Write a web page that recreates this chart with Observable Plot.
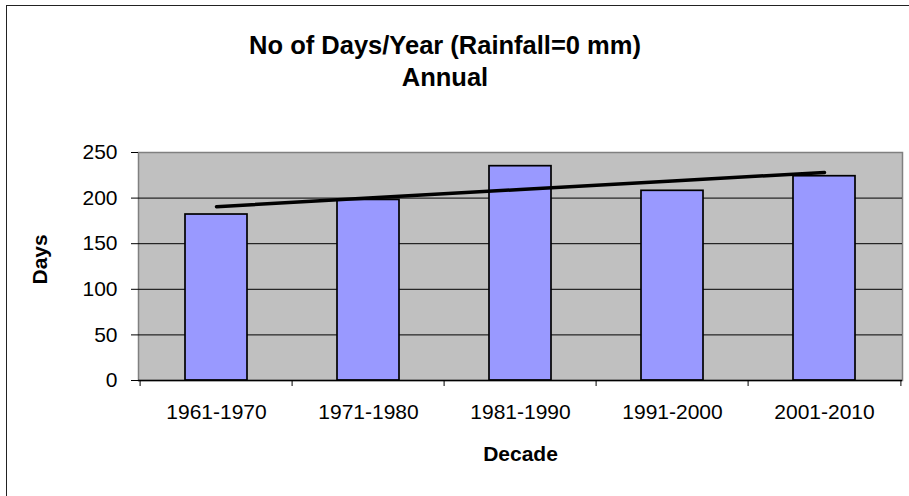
<!DOCTYPE html>
<html>
<head>
<meta charset="utf-8">
<script src="https://cdn.jsdelivr.net/npm/d3@7"></script>
<script src="https://cdn.jsdelivr.net/npm/@observablehq/plot@0.6"></script>
<style>
  html, body { margin: 0; padding: 0; background: #fff; }
  #wrap { position: relative; width: 909px; height: 496px; overflow: hidden; font-family: "Liberation Sans", Arial, sans-serif; }
  #border { position: absolute; left: 6px; top: 5px; width: 960px; height: 560px; border: 1.5px solid #222; box-sizing: border-box; }
  #title { position: absolute; left: 0; top: 29px; width: 890px; text-align: center; font-weight: bold; font-size: 25.5px; line-height: 32px; color: #000; }
  #chart { position: absolute; left: 0; top: 0; }
</style>
</head>
<body>
<div id="wrap">
  <div id="border"></div>
  <div id="chart"></div>
  <div id="title">No of Days/Year (Rainfall=0 mm)<br>Annual</div>
</div>
<script>
const decades = ["1961-1970", "1971-1980", "1981-1990", "1991-2000", "2001-2010"];
const days = [182, 198, 235, 208, 224];
const yTicks = [0, 50, 100, 150, 200, 250];

const data = decades.map((d, i) => ({decade: d, days: days[i]}));

// Linear trend (least squares) over the decade index
const n = days.length;
const xm = (n - 1) / 2;
const ym = d3.mean(days);
const slope = d3.sum(days, (v, i) => (i - xm) * (v - ym)) / d3.sum(days, (v, i) => (i - xm) ** 2);
const trend = decades.map((d, i) => ({decade: d, days: ym + slope * (i - xm)}));

const W = 909, H = 496, ML = 138, MR = 7, MT = 152, MB = 116;
const step = (W - ML - MR) / decades.length;

const chart = Plot.plot({
  width: W,
  height: H,
  marginLeft: ML,
  marginRight: MR,
  marginTop: MT,
  marginBottom: MB,
  style: {fontFamily: "'Liberation Sans', Arial, sans-serif", fontSize: "21px", color: "#000", background: "transparent"},
  x: {domain: decades, paddingInner: 0.594, paddingOuter: 0.297, align: 0.5},
  y: {domain: [0, 250]},
  marks: [
    Plot.frame({fill: "#c0c0c0", stroke: "#808080", strokeWidth: 1.5}),
    Plot.ruleY(yTicks.filter(t => t > 0 && t < 250), {stroke: "#000", strokeWidth: 1}),
    Plot.barY(data, {x: "decade", y: "days", fill: "#9999ff", stroke: "#000", strokeWidth: 1.7}),
    Plot.line(trend, {x: "decade", y: "days", stroke: "#000", strokeWidth: 3.5}),
    Plot.ruleY([0], {stroke: "#000", strokeWidth: 1.5}),
    Plot.axisY({ticks: yTicks, tickSize: 7, tickPadding: 14, label: null, line: true, fontSize: 21}),
    Plot.axisX({tickSize: 0, tickPadding: 24, label: null, fontSize: 21}),
    Plot.axisX({tickSize: 6, text: null, label: null, dx: -step / 2}),
    Plot.axisX({ticks: [decades[decades.length - 1]], tickSize: 6, text: null, label: null, dx: step / 2}),
    Plot.text(["Days"], {frameAnchor: "left", rotate: -90, dx: -98, dy: 18, fontWeight: "bold", fontSize: 21}),
    Plot.text(["Decade"], {frameAnchor: "bottom", dy: 80, fontWeight: "bold", fontSize: 21})
  ]
});
document.getElementById("chart").appendChild(chart);
</script>
</body>
</html>
